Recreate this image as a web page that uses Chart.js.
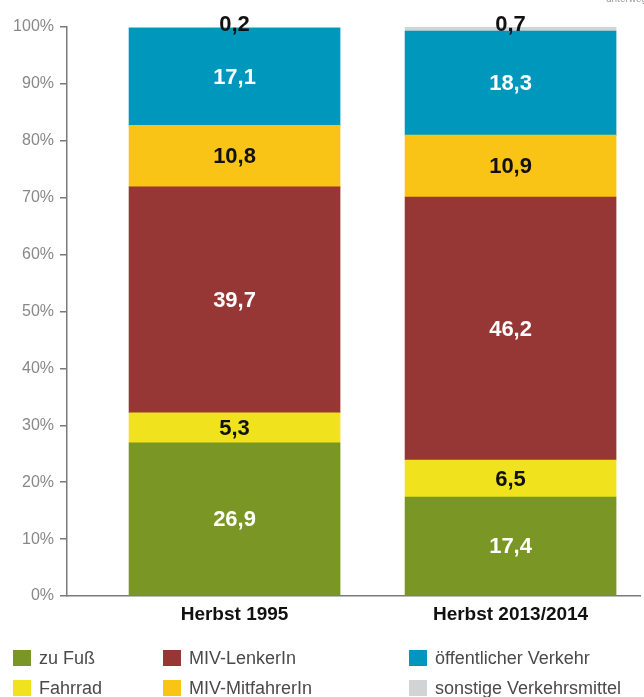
<!DOCTYPE html>
<html lang="de">
<head>
<meta charset="utf-8">
<title>Verkehrsmittelwahl</title>
<script src="https://cdn.jsdelivr.net/npm/chart.js@4.4.1/dist/chart.umd.min.js"></script>
<style>
  html, body { margin: 0; padding: 0; background: #fff; overflow: hidden; }
  #wrap { position: relative; width: 644px; height: 697px; }
  #legende { position: absolute; left: 0; top: 0; width: 644px; height: 697px; pointer-events: none; }
  .item { position: absolute; font: 18px "Liberation Sans", Arial, sans-serif; color: #4a4a4a; white-space: nowrap; }
  .item span.box { position: absolute; left: 0; top: 2px; width: 18px; height: 16px; }
  .item span.txt { position: absolute; left: 26px; top: 0; line-height: 20px; }
  #eck { position: absolute; left: 606px; top: -7px; font: 10px "Liberation Sans", Arial, sans-serif; color: #999; }
</style>
</head>
<body>
<div id="wrap">
  <canvas id="grafik" width="644" height="697"></canvas>
  <div id="legende"></div>
  <div id="eck">unterwegs</div>
</div>
<script>
const kategorien = ["Herbst 1995", "Herbst 2013/2014"];

const zuFuss = [26.9, 17.4];
const fahrrad = [5.3, 6.5];
const mivLenker = [39.7, 46.2];
const mivMitfahrer = [10.8, 10.9];
const oeffentlich = [17.1, 18.3];
const sonstige = [0.2, 0.7];

const serienNamen = ["zu Fuß", "Fahrrad", "MIV-LenkerIn", "MIV-MitfahrerIn", "öffentlicher Verkehr", "sonstige Verkehrsmittel"];
const serienWerte = [zuFuss, fahrrad, mivLenker, mivMitfahrer, oeffentlich, sonstige];
const farben = ["#7a9624", "#f0e31d", "#963735", "#f9c416", "#0097bd", "#d2d3d5"];
const textFarben = ["#fff", "#111", "#fff", "#111", "#fff", "#111"];

const yTicks = [0, 10, 20, 30, 40, 50, 60, 70, 80, 90, 100];

// Werte in die Balken schreiben
const wertePlugin = {
  id: "werte",
  afterDatasetsDraw(chart) {
    const ctx = chart.ctx;
    ctx.save();
    ctx.font = "bold 22px 'Liberation Sans', Arial, sans-serif";
    ctx.textAlign = "center";
    ctx.textBaseline = "middle";
    chart.data.datasets.forEach((ds, i) => {
      const meta = chart.getDatasetMeta(i);
      meta.data.forEach((bar, j) => {
        const wert = serienWerte[i][j];
        const text = wert.toFixed(1).replace(".", ",");
        let y = (bar.y + bar.base) / 2;
        if (i === serienWerte.length - 1) {
          y = bar.y - 3; // kleiner Wert oben am Balken
        }
        ctx.fillStyle = textFarben[i];
        ctx.fillText(text, bar.x, y + 1);
      });
    });
    ctx.restore();
  },
};

const datasets = serienNamen.map((name, i) => ({
  label: name,
  data: serienWerte[i].map((v, j) => ({ x: j, y: v })),
  backgroundColor: farben[i],
  borderWidth: 0,
  barThickness: 211,
}));

new Chart(document.getElementById("grafik"), {
  type: "bar",
  data: { datasets: datasets },
  options: {
    responsive: false,
    animation: false,
    layout: { padding: { top: 27, right: 4, left: 0, bottom: 0 } },
    plugins: {
      legend: { display: false },
      tooltip: { enabled: false },
    },
    scales: {
      x: {
        type: "linear",
        stacked: true,
        offset: false,
        min: -0.607,
        max: 1.469,
        afterBuildTicks: (scale) => {
          scale.ticks = kategorien.map((k, i) => ({ value: i }));
        },
        afterFit: (scale) => {
          scale.height = 697 - 596;
        },
        ticks: {
          autoSkip: false,
          maxRotation: 0,
          padding: -1,
          color: "#111",
          font: { family: "'Liberation Sans', Arial, sans-serif", size: 19, weight: "bold" },
          callback: (v) => kategorien[v] || "",
        },
        grid: { display: false, offset: false },
        border: { display: true, color: "#7a7a7a", width: 1.5 },
      },
      y: {
        stacked: true,
        min: 0,
        max: 100,
        afterBuildTicks: (scale) => {
          scale.ticks = yTicks.map((v) => ({ value: v }));
        },
        afterFit: (scale) => {
          scale.width = 67;
        },
        ticks: {
          padding: 6,
          color: "#888",
          font: { family: "'Liberation Sans', Arial, sans-serif", size: 16 },
          callback: (v) => v + "%",
        },
        grid: { display: true, drawOnChartArea: false, drawTicks: true, tickLength: 7, color: "#7a7a7a", lineWidth: 1.5 },
        border: { display: true, color: "#7a7a7a", width: 1.5 },
      },
    },
  },
  plugins: [wertePlugin],
});

// Legende: drei Spalten, zwei Zeilen
const spaltenX = [13, 163, 409];
const zeilenY = [648, 678];
const legende = document.getElementById("legende");
serienNamen.forEach((name, i) => {
  const el = document.createElement("div");
  el.className = "item";
  el.style.left = spaltenX[Math.floor(i / 2)] + "px";
  el.style.top = zeilenY[i % 2] + "px";
  el.innerHTML = '<span class="box" style="background:' + farben[i] + '"></span><span class="txt"></span>';
  el.querySelector(".txt").textContent = name;
  legende.appendChild(el);
});
</script>
</body>
</html>
